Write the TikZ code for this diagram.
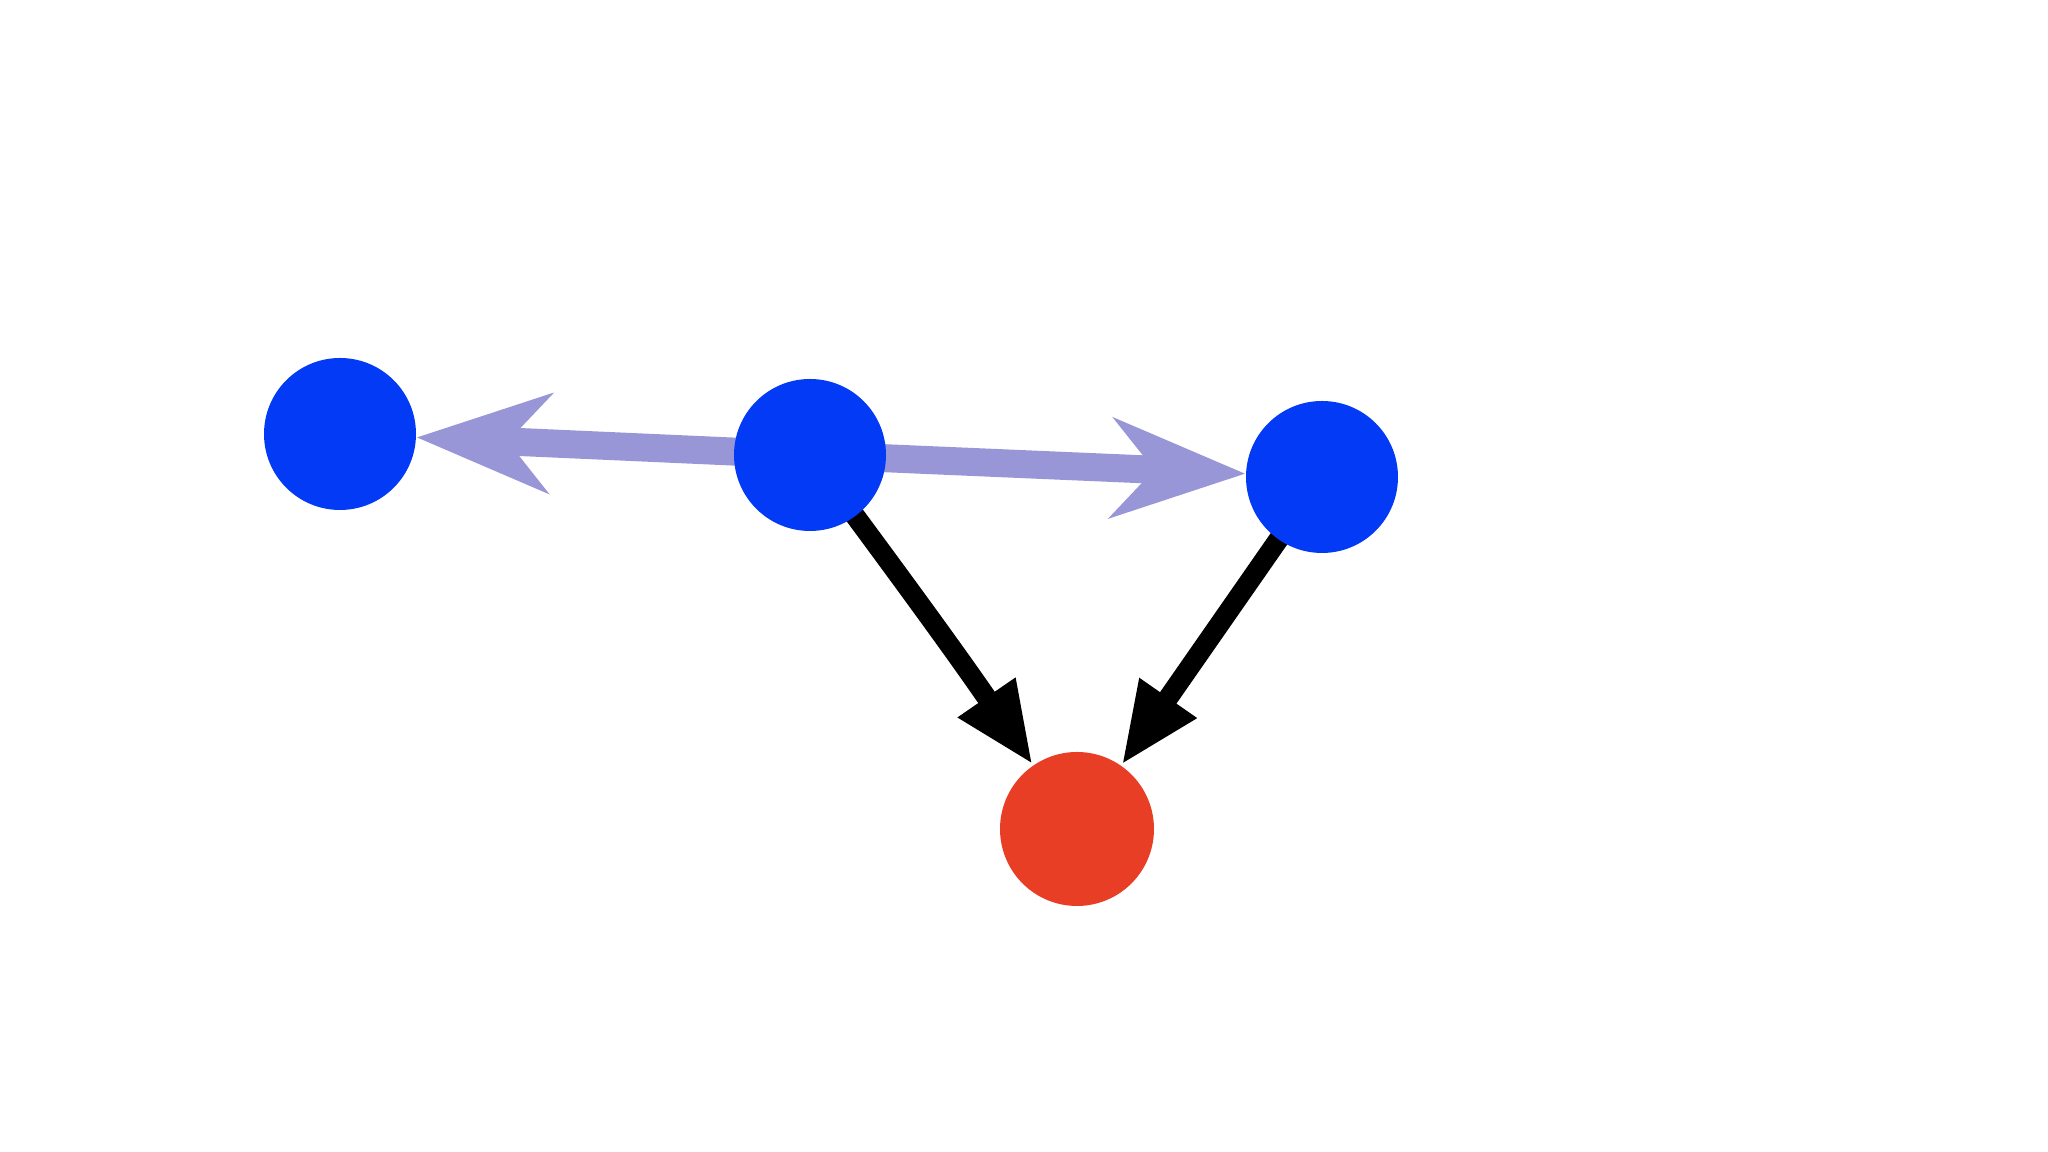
\documentclass[tikz,border=0pt]{standalone}
\usetikzlibrary{arrows.meta,backgrounds}

\definecolor{nodeblue}{RGB}{2,58,246}
\definecolor{nodered}{RGB}{233,62,38}
\definecolor{lavender}{RGB}{152,150,214}

\begin{document}
\begin{tikzpicture}[
  dot/.style={
    circle,
    fill=nodeblue,
    draw=none,
    minimum size=1.52cm,
    inner sep=0pt
  },
  sinkdot/.style={
    dot,
    fill=nodered,
    minimum size=1.54cm
  },
  softarrow/.style={
    -{Stealth[length=1.33cm, width=0.99cm, inset=0.42cm]},
    line width=0.28cm,
    draw=lavender,
    shorten <=-0.3cm
  },
  hardarrow/.style={
    -{Triangle[length=0.82cm, width=0.64cm]},
    line width=0.2cm,
    draw=black,
    shorten <=-0.3cm
  }
]
\useasboundingbox (0,0) rectangle (20.48,11.52);

% --------------------
% Nodes
% --------------------
\node[dot] (nleft) at (3.40,7.18) {};
\node[dot] (nmid) at (8.10,6.97) {};
\node[dot] (nright) at (13.22,6.75) {};
\node[sinkdot] (target) at (10.77,3.23) {};

% --------------------
% Arrows
% --------------------
\begin{pgfonlayer}{background}
\draw[softarrow] (nmid) -- (nleft);
\draw[softarrow] (nmid) -- (nright);
\draw[hardarrow] (nmid) to[bend left=1] (target);
\draw[hardarrow] (nright) -- (target);
\end{pgfonlayer}

\end{tikzpicture}
\end{document}
